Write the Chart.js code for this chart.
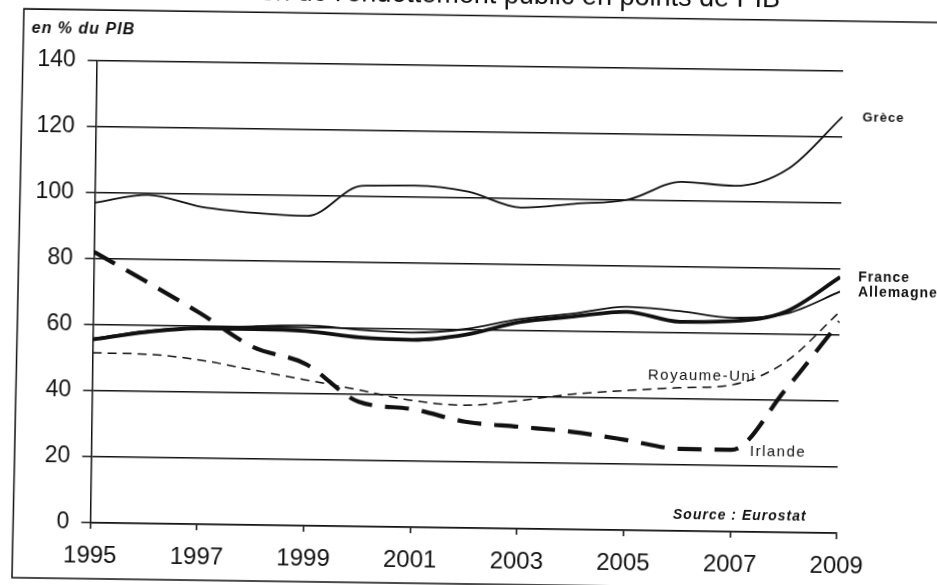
<!DOCTYPE html>
<html>
<head>
<meta charset="utf-8">
<script src="https://cdn.jsdelivr.net/npm/chart.js@4/dist/chart.umd.min.js"></script>
<style>
  html, body { margin: 0; padding: 0; background: #fff; overflow: hidden; width: 937px; height: 585px; }
  #chart { position: absolute; left: -31px; top: -32px; transform: rotate(0.8deg); transform-origin: 50% 50%; }
</style>
</head>
<body>
<canvas id="chart" width="1000" height="650"></canvas>
<script>
(function () {
    "use strict";

    var years = [1995, 1996, 1997, 1998, 1999, 2000, 2001, 2002, 2003, 2004, 2005, 2006, 2007, 2008, 2009];
    var grece = [97.0, 99.6, 96.2, 94.6, 93.9, 103.2, 103.5, 101.9, 97.3, 98.7, 100.2, 105.8, 104.8, 110.2, 126.2];
    var france = [55.6, 58.0, 59.4, 59.4, 59.0, 57.3, 56.8, 58.6, 62.6, 64.5, 66.2, 63.4, 63.8, 67.0, 77.6];
    var allemagne = [55.8, 58.4, 59.6, 60.2, 60.7, 59.6, 59.0, 60.3, 63.5, 65.4, 67.7, 66.6, 64.8, 66.3, 73.2];
    var royaumeUni = [51.5, 51.3, 49.8, 47.0, 44.2, 41.4, 38.4, 37.2, 38.8, 41.0, 42.3, 43.4, 44.5, 51.7, 67.1];
    var irlande = [82.1, 73.2, 64.0, 54.0, 49.0, 37.8, 35.8, 32.2, 30.9, 29.6, 27.4, 24.9, 24.8, 43.2, 64.1];
    var yTicks = [0, 20, 40, 60, 80, 100, 120, 140];

    var title = "Évolution de l'endettement public en points de PIB";
    var unitLabel = "en % du PIB";
    var source = "Source : Eurostat";

    function points(values) {
        return years.map(function (yr, i) { return { x: yr, y: values[i] }; });
    }

    function series(values, width, dash) {
        return {
            data: points(values),
            borderColor: "#111",
            borderWidth: width,
            borderDash: dash || [],
            pointRadius: 0,
            fill: false,
            cubicInterpolationMode: "monotone"
        };
    }

    // frame, title and the text labels placed on the page
    var decorations = {
        id: "decorations",
        beforeDraw: function (chart) {
            var ctx = chart.ctx;
            ctx.save();
            ctx.fillStyle = "#fff";
            ctx.fillRect(0, 0, chart.width, chart.height);
            ctx.restore();
        },
        afterDraw: function (chart) {
            var ctx = chart.ctx;
            ctx.save();

            ctx.strokeStyle = "#111";
            ctx.lineWidth = 1.5;
            ctx.beginPath();
            ctx.moveTo(1000, 48);
            ctx.lineTo(51, 47);
            ctx.lineTo(47, 616);
            ctx.lineTo(1000, 616);
            ctx.stroke();

            ctx.fillStyle = "#111";
            ctx.textBaseline = "alphabetic";
            ctx.textAlign = "right";
            ctx.font = "27px 'Liberation Sans', Arial, sans-serif";
            ctx.fillText(title, 807, 35);

            ctx.textAlign = "left";
            ctx.textBaseline = "middle";
            ctx.letterSpacing = "1px";
            ctx.font = "italic bold 16px 'Liberation Sans', Arial, sans-serif";
            ctx.fillText(unitLabel, 59, 67);

            ctx.font = "bold 13px 'Liberation Sans', Arial, sans-serif";
            ctx.fillText("Grèce", 891, 144);

            ctx.font = "bold 14px 'Liberation Sans', Arial, sans-serif";
            ctx.fillText("France", 889, 304);
            ctx.fillText("Allemagne", 889, 319);

            ctx.letterSpacing = "1.5px";
            ctx.font = "15px 'Liberation Sans', Arial, sans-serif";
            ctx.fillText("Royaume-Uni", 680, 405);
            ctx.fillText("Irlande", 783, 480);

            ctx.letterSpacing = "1px";
            ctx.font = "italic bold 14px 'Liberation Sans', Arial, sans-serif";
            ctx.fillText(source, 707, 544);

            ctx.restore();
        }
    };

    var ctx = document.getElementById("chart").getContext("2d");
    new Chart(ctx, {
        type: "line",
        data: {
            datasets: [
                series(grece, 1.8),
                series(france, 3.8),
                series(allemagne, 1.8),
                series(royaumeUni, 1.5, [9, 6]),
                series(irlande, 4.2, [24, 13])
            ]
        },
        options: {
            responsive: false,
            animation: false,
            layout: { padding: { left: 0, top: 98, right: 129, bottom: 0 } },
            plugins: {
                legend: { display: false },
                tooltip: { enabled: false }
            },
            scales: {
                x: {
                    type: "linear",
                    min: years[0],
                    max: years[years.length - 1],
                    ticks: {
                        stepSize: 2,
                        color: "#111",
                        padding: 13,
                        font: { family: "'Liberation Sans', Arial, sans-serif", size: 24 },
                        callback: function (v) { return String(v); }
                    },
                    grid: { drawOnChartArea: false, color: "#111", tickLength: 6, lineWidth: 1.5 },
                    border: { color: "#111", width: 1.5 },
                    afterFit: function (scale) { scale.height = 90; }
                },
                y: {
                    min: yTicks[0],
                    max: yTicks[yTicks.length - 1],
                    afterBuildTicks: function (scale) {
                        scale.ticks = yTicks.map(function (v) { return { value: v }; });
                    },
                    ticks: {
                        color: "#111",
                        padding: 12,
                        font: { family: "'Liberation Sans', Arial, sans-serif", size: 23 }
                    },
                    grid: { color: "#111", lineWidth: 1.4, tickLength: 9 },
                    border: { color: "#111", width: 1.5 },
                    afterFit: function (scale) { scale.width = 124.5; }
                }
            }
        },
        plugins: [decorations]
    });
})();
</script>
</body>
</html>
